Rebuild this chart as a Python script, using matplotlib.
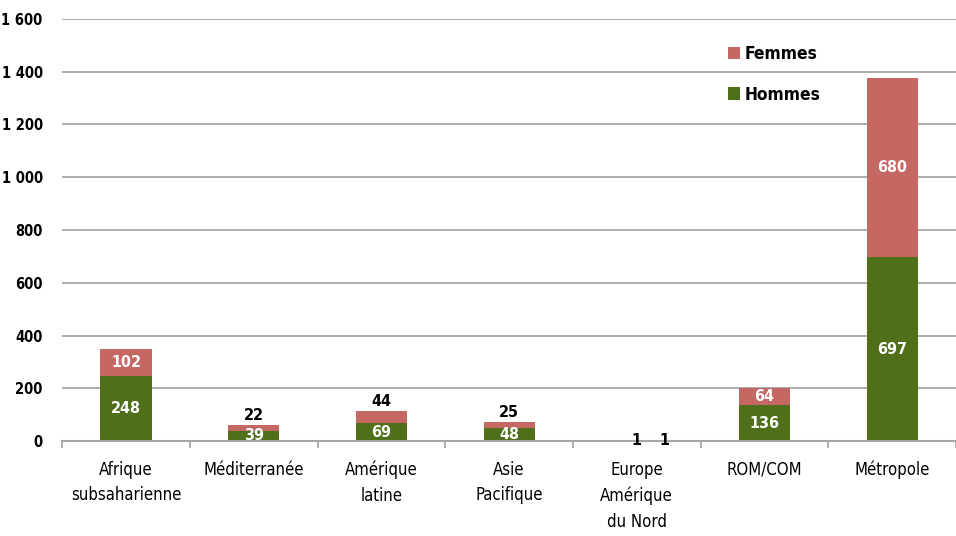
import matplotlib
matplotlib.use("Agg")
import matplotlib.pyplot as plt
from matplotlib import font_manager
from matplotlib.ticker import FuncFormatter, FixedLocator

# narrow face if one is installed, else the condensed DejaVu cut
installed = {f.name for f in font_manager.fontManager.ttflist}
narrow = [f for f in ("Liberation Sans Narrow", "Arial Narrow") if f in installed]
plt.rcParams['font.family'] = narrow + ['DejaVu Sans']
plt.rcParams['font.stretch'] = 'condensed'

categories = ["Afrique\nsubsaharienne", "Méditerranée", "Amérique\nlatine", "Asie\nPacifique",
              "Europe\nAmérique\ndu Nord", "ROM/COM", "Métropole"]
hommes = [248, 39, 69, 48, 1, 136, 697]
femmes = [102, 22, 44, 25, 1, 64, 680]

GREEN = "#4f6f1b"
RED = "#c56763"
GRID = "#a6a6a6"

fig = plt.figure(figsize=(9.56, 5.36), dpi=100)
ax = fig.add_axes([0.065, 0.177, 0.935, 0.788])

x = list(range(len(categories)))
w = 0.4
ax.bar(x, hommes, width=w, color=GREEN, label="Hommes", zorder=2)
ax.bar(x, femmes, width=w, bottom=hommes, color=RED, label="Femmes", zorder=2)

# value labels: inside the segment when it is tall enough, otherwise black
for i, (h, f) in enumerate(zip(hommes, femmes)):
    if h >= 30:
        ax.text(i, h / 2, str(h), ha="center", va="center", color="white",
                fontsize=11.5, fontweight="bold", zorder=3)
    else:
        ax.text(i, h / 2, str(h), ha="center", va="center", color="black",
                fontsize=11.5, fontweight="bold", zorder=3)
    if f >= 60:
        ax.text(i, h + f / 2, str(f), ha="center", va="center", color="white",
                fontsize=11.5, fontweight="bold", zorder=3)
    elif f >= 10:
        ax.text(i, h + f + 8, str(f), ha="center", va="bottom", color="black",
                fontsize=11.5, fontweight="bold", zorder=3)
    else:
        ax.text(i + 0.22, h / 2, str(f), ha="center", va="center", color="black",
                fontsize=11.5, fontweight="bold", zorder=3)

ax.set_xlim(-0.5, len(categories) - 0.5)
ax.set_ylim(0, 1600)
ax.yaxis.set_major_locator(FixedLocator(range(0, 1601, 200)))
ax.yaxis.set_major_formatter(FuncFormatter(lambda v, p: f"{int(v):,}".replace(",", " ")))
ax.grid(axis="y", color=GRID, linewidth=1.3, zorder=0)
ax.set_axisbelow(True)

ax.set_xticks(x)
ax.set_xticklabels(categories, fontsize=12, linespacing=1.55)
ax.set_xticks([i - 0.5 for i in range(len(categories) + 1)], minor=True)
ax.tick_params(axis="x", which="major", length=0, pad=14)
ax.tick_params(axis="x", which="minor", length=5, width=1.3, color=GRID)
ax.tick_params(axis="y", length=0, pad=14, labelsize=10.5)
for lab in ax.get_yticklabels():
    lab.set_fontweight("bold")

for s in ["top", "right", "left"]:
    ax.spines[s].set_visible(False)
ax.spines["bottom"].set_color(GRID)
ax.spines["bottom"].set_linewidth(1.5)

handles, labels = ax.get_legend_handles_labels()
leg = ax.legend(handles[::-1], labels[::-1], loc="upper left", bbox_to_anchor=(0.727, 0.975),
                frameon=False, handlelength=0.7, handleheight=0.7, handletextpad=0.3,
                labelspacing=1.3, prop={"size": 12.5, "weight": "bold"})

fig.savefig("out.png", dpi=100)
